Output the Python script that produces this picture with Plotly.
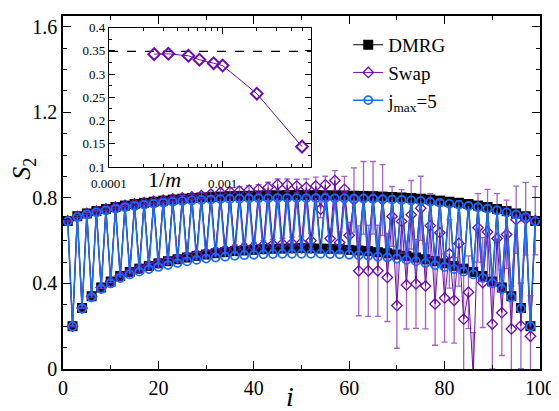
import plotly.graph_objects as go

# ---------------- data ----------------
sites = list(range(1, 100))

dmrg_S2 = [0.692, 0.200, 0.714, 0.285, 0.727, 0.340, 0.738, 0.381, 0.748, 0.409,
           0.757, 0.435, 0.764, 0.454, 0.771, 0.469, 0.777, 0.482, 0.782, 0.494,
           0.787, 0.504, 0.792, 0.513, 0.796, 0.521, 0.799, 0.529, 0.802, 0.535,
           0.804, 0.541, 0.806, 0.546, 0.808, 0.551, 0.809, 0.554, 0.810, 0.557,
           0.811, 0.560, 0.812, 0.562, 0.812, 0.563, 0.813, 0.564, 0.813, 0.565,
           0.813, 0.564, 0.813, 0.563, 0.812, 0.562, 0.812, 0.560, 0.811, 0.557,
           0.810, 0.554, 0.809, 0.551, 0.808, 0.546, 0.806, 0.541, 0.804, 0.535,
           0.802, 0.529, 0.799, 0.521, 0.796, 0.513, 0.792, 0.504, 0.787, 0.494,
           0.782, 0.482, 0.777, 0.469, 0.771, 0.454, 0.764, 0.435, 0.757, 0.409,
           0.748, 0.381, 0.738, 0.340, 0.727, 0.285, 0.714, 0.200, 0.692]

jmax5_S2 = [0.690, 0.199, 0.710, 0.282, 0.722, 0.335, 0.732, 0.374, 0.741, 0.400,
            0.749, 0.425, 0.756, 0.442, 0.762, 0.455, 0.767, 0.467, 0.772, 0.477,
            0.777, 0.486, 0.781, 0.495, 0.785, 0.503, 0.788, 0.510, 0.790, 0.516,
            0.792, 0.521, 0.794, 0.525, 0.795, 0.529, 0.796, 0.532, 0.797, 0.534,
            0.798, 0.536, 0.798, 0.537, 0.799, 0.538, 0.799, 0.538, 0.799, 0.538,
            0.799, 0.538, 0.799, 0.538, 0.799, 0.537, 0.798, 0.536, 0.798, 0.534,
            0.797, 0.532, 0.796, 0.529, 0.795, 0.525, 0.794, 0.521, 0.792, 0.516,
            0.790, 0.510, 0.788, 0.503, 0.785, 0.495, 0.781, 0.486, 0.777, 0.477,
            0.772, 0.467, 0.767, 0.455, 0.762, 0.442, 0.756, 0.425, 0.749, 0.400,
            0.741, 0.374, 0.732, 0.335, 0.722, 0.282, 0.710, 0.199, 0.690]

swap_S2 = [0.692, 0.200, 0.713, 0.285, 0.727, 0.340, 0.738, 0.381, 0.748, 0.410,
           0.757, 0.436, 0.765, 0.455, 0.772, 0.471, 0.778, 0.485, 0.783, 0.497,
           0.789, 0.508, 0.795, 0.518, 0.800, 0.527, 0.805, 0.535, 0.810, 0.542,
           0.818, 0.550, 0.825, 0.556, 0.828, 0.562, 0.832, 0.568, 0.836, 0.572,
           0.840, 0.578, 0.848, 0.582, 0.862, 0.585, 0.860, 0.588, 0.855, 0.590,
           0.848, 0.600, 0.855, 0.747, 0.861, 0.610, 0.881, 0.591, 0.840, 0.625,
           0.790, 0.459, 0.800, 0.459, 0.800, 0.459, 0.790, 0.428, 0.713, 0.297,
           0.690, 0.393, 0.721, 0.398, 0.751, 0.388, 0.670, 0.304, 0.637, 0.332,
           0.538, 0.321, 0.587, 0.233, 0.359, -0.030, 0.660, 0.404, 0.640, 0.210,
           0.610, 0.263, 0.629, 0.187, 0.698, 0.202, 0.702, 0.153, 0.693]

swap_err = [0.004, 0.003, 0.004, 0.003, 0.004, 0.004, 0.004, 0.004, 0.005, 0.005,
            0.005, 0.005, 0.006, 0.006, 0.006, 0.006, 0.007, 0.007, 0.008, 0.008,
            0.009, 0.009, 0.010, 0.010, 0.011, 0.011, 0.012, 0.012, 0.013, 0.013,
            0.015, 0.015, 0.017, 0.016, 0.018, 0.018, 0.020, 0.019, 0.021, 0.020,
            0.022, 0.022, 0.025, 0.024, 0.026, 0.026, 0.028, 0.028, 0.032, 0.030,
            0.040, 0.035, 0.042, 0.040, 0.040, 0.045, 0.046, 0.050, 0.060, 0.060,
            0.150, 0.210, 0.170, 0.213, 0.170, 0.213, 0.165, 0.206, 0.140, 0.200,
            0.148, 0.206, 0.160, 0.208, 0.150, 0.200, 0.150, 0.193, 0.150, 0.206,
            0.160, 0.200, 0.200, 0.240, 0.170, 0.200, 0.160, 0.210, 0.200, 0.210,
            0.210, 0.200, 0.160, 0.200, 0.157, 0.200, 0.170, 0.190, 0.160]

inset_inv_m = [0.00025, 0.000333, 0.0005, 0.000625, 0.000833, 0.001, 0.002, 0.005]
inset_S2 = [0.343, 0.3437, 0.3395, 0.331, 0.3235, 0.3185, 0.258, 0.144]
dmrg_ref = 0.349

main_xticks = [0, 20, 40, 60, 80, 100]
main_yticks = [0, 0.4, 0.8, 1.2, 1.6]
main_yticklabels = ["0", "0.4", "0.8", "1.2", "1.6"]
inset_yticks = [0.1, 0.15, 0.2, 0.25, 0.3, 0.35, 0.4]
inset_yticklabels = ["0.1", "0.15", "0.2", "0.25", "0.3", "0.35", "0.4"]
inset_xticks = [0.0001, 0.001]
inset_xticklabels = ["0.0001", "0.001"]
inset_xminor = [2e-4, 3e-4, 4e-4, 5e-4, 6e-4, 7e-4, 8e-4, 9e-4,
                2e-3, 3e-3, 4e-3, 5e-3, 6e-3]

# ---------------- styles ----------------
BLACK = "#000000"
PURPLE = "#6a0dad"
PURPLE_ERR = "rgba(140,60,190,0.8)"
BLUE = "#1a6cff"
SERIF = "Liberation Serif, Times New Roman, DejaVu Serif, serif"

fig = go.Figure()

fig.add_trace(go.Scatter(
    x=sites, y=dmrg_S2, mode="lines+markers", name="DMRG",
    line=dict(color=BLACK, width=1.2),
    marker=dict(symbol="square", size=10, color=BLACK),
    xaxis="x", yaxis="y"))

fig.add_trace(go.Scatter(
    x=sites, y=swap_S2, mode="lines+markers", name="Swap",
    line=dict(color=PURPLE, width=1),
    marker=dict(symbol="diamond-open", size=8, color=PURPLE, line=dict(width=1.3)),
    error_y=dict(type="data", array=swap_err, visible=True,
                 color=PURPLE_ERR, thickness=1.3, width=3),
    xaxis="x", yaxis="y"))

fig.add_trace(go.Scatter(
    x=sites, y=jmax5_S2, mode="lines+markers", name="j<sub>max</sub>=5",
    line=dict(color=BLUE, width=1.5),
    marker=dict(symbol="circle-open", size=8, color=BLUE, line=dict(width=1.8)),
    xaxis="x", yaxis="y"))

# inset
fig.add_trace(go.Scatter(
    x=[1e-4, 0.006], y=[dmrg_ref, dmrg_ref], mode="lines", showlegend=False,
    line=dict(color=BLACK, width=1.3, dash="dash"),
    xaxis="x2", yaxis="y2"))

fig.add_trace(go.Scatter(
    x=inset_inv_m, y=inset_S2, mode="lines+markers", showlegend=False,
    line=dict(color=PURPLE, width=1),
    marker=dict(symbol="diamond-open", size=9, color=PURPLE, line=dict(width=2)),
    xaxis="x2", yaxis="y2"))

axis_common = dict(showline=True, linecolor=BLACK, linewidth=1.5, mirror="ticks",
                   ticks="inside", tickcolor=BLACK, showgrid=False, zeroline=False)

fig.update_layout(
    width=551, height=403,
    margin=dict(l=55, r=19, t=1, b=42),
    paper_bgcolor="white", plot_bgcolor="white",
    font=dict(family=SERIF, color=BLACK),
    xaxis=dict(range=[0, 100], tickvals=main_xticks, ticklen=8, tickwidth=1.2,
               tickfont=dict(size=20, family=SERIF),
               minor=dict(dtick=10, tick0=0, ticks="inside", ticklen=4, tickcolor=BLACK),
               domain=[0, 1], **axis_common),
    yaxis=dict(range=[0, 1.65], tickvals=main_yticks, ticktext=main_yticklabels,
               ticklen=8, tickwidth=1.2, tickfont=dict(size=20, family=SERIF),
               minor=dict(dtick=0.1, tick0=0, ticks="inside", ticklen=4, tickcolor=BLACK),
               domain=[0, 1], **axis_common),
    xaxis2=dict(type="log", range=[-4, -2.2218], tickvals=inset_xticks,
                ticktext=inset_xticklabels, ticklen=6, tickwidth=1,
                tickfont=dict(size=13, family=SERIF), ticklabelstandoff=4,
                minor=dict(tickmode="array", tickvals=inset_xminor, ticks="inside",
                           ticklen=3, tickcolor=BLACK),
                domain=[0.0964, 0.52], anchor="y2",
                showline=True, linecolor=BLACK, linewidth=1.2, mirror="ticks",
                ticks="inside", tickcolor=BLACK, showgrid=False, zeroline=False),
    yaxis2=dict(range=[0.1, 0.4], tickvals=inset_yticks, ticktext=inset_yticklabels,
                ticklen=6, tickwidth=1, tickfont=dict(size=13, family=SERIF),
                minor=dict(dtick=0.025, tick0=0.1, ticks="inside", ticklen=3,
                           tickcolor=BLACK),
                domain=[0.572, 0.967], anchor="x2",
                showline=True, linecolor=BLACK, linewidth=1.2, mirror="ticks",
                ticks="inside", tickcolor=BLACK, showgrid=False, zeroline=False),
    showlegend=True,
    legend=dict(x=0.598, y=0.972, xanchor="left", yanchor="top",
                bgcolor="rgba(0,0,0,0)", font=dict(size=19, family=SERIF),
                tracegroupgap=0, itemwidth=30),
)

fig.add_annotation(text="<i>S</i><sub>2</sub>", xref="paper", yref="paper",
                   x=-0.084, y=0.567, xanchor="center", yanchor="middle",
                   textangle=-90, showarrow=False,
                   font=dict(size=26, family=SERIF))
fig.add_annotation(text="<i>i</i>", xref="paper", yref="paper",
                   x=0.476, y=-0.078, xanchor="center", yanchor="middle",
                   showarrow=False, font=dict(size=28, family=SERIF))
fig.add_annotation(text="1/<i>m</i>", xref="paper", yref="paper",
                   x=0.212, y=0.536, xanchor="center", yanchor="middle",
                   showarrow=False, font=dict(size=22, family=SERIF))

fig.write_html("out.html")
